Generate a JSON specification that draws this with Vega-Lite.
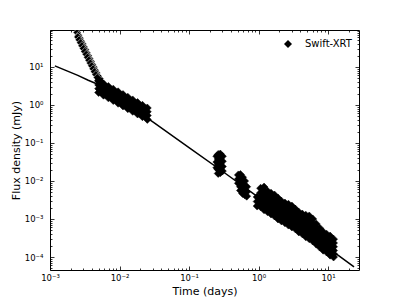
{
"$schema": "https://vega.github.io/schema/vega-lite/v6.json",
"width": 309, "height": 240,
"autosize": {"type": "none"},
"padding": {"left": 50, "top": 30, "right": 40, "bottom": 31},
"background": "white",
"config": {"font": "DejaVu Sans", "view": {"stroke": "black", "strokeWidth": 1}},
"datasets": {
"model": [
{"t":0.001175,"f":10.7},{"t":0.001585,"f":8.51},{"t":0.002512,"f":6.03},{"t":0.003548,"f":4.47},{"t":0.005248,"f":3.31},{"t":0.01,"f":1.45},{"t":0.03162,"f":0.339},{"t":0.1,"f":0.0759},{"t":0.3162,"f":0.0170},{"t":1,"f":0.00372},{"t":3.162,"f":0.000794},{"t":10,"f":0.000174},{"t":23.66,"f":0.000055}
],
"xrt": [
{"t":0.002455,"f":80.9},{"t":0.00257,"f":67.9},{"t":0.002692,"f":57.0},{"t":0.002818,"f":47.8},{"t":0.002951,"f":40.1},{"t":0.00309,"f":33.7},{"t":0.003236,"f":28.2},{"t":0.003388,"f":23.7},{"t":0.003548,"f":19.9},{"t":0.003715,"f":16.7},{"t":0.00389,"f":14.0},{"t":0.004074,"f":11.7},{"t":0.004266,"f":9.86},{"t":0.004467,"f":8.26},{"t":0.004677,"f":6.93},{"t":0.004898,"f":5.82},{"t":0.005129,"f":4.89},{"t":0.00537,"f":4.10},
{"t":0.002512,"f":61.7},{"t":0.00263,"f":51.8},{"t":0.002754,"f":43.5},{"t":0.002884,"f":36.4},{"t":0.00302,"f":30.5},{"t":0.003162,"f":25.6},{"t":0.003311,"f":21.5},{"t":0.003467,"f":18.1},{"t":0.003631,"f":15.1},{"t":0.003802,"f":12.7},{"t":0.003981,"f":10.7},{"t":0.004169,"f":8.95},{"t":0.004365,"f":7.52},{"t":0.004571,"f":6.30},{"t":0.004786,"f":5.28},{"t":0.005012,"f":4.44},{"t":0.005248,"f":3.72},{"t":0.005495,"f":3.13},
{"t":0.005012,"f":4.26},{"t":0.005012,"f":3.38},{"t":0.005012,"f":2.69},{"t":0.005012,"f":2.13},
{"t":0.005433,"f":3.50},{"t":0.005433,"f":2.78},{"t":0.005433,"f":2.21},
{"t":0.005888,"f":3.61},{"t":0.005888,"f":2.87},{"t":0.005888,"f":2.28},{"t":0.005888,"f":1.81},
{"t":0.006383,"f":2.97},{"t":0.006383,"f":2.36},{"t":0.006383,"f":1.87},
{"t":0.006918,"f":3.07},{"t":0.006918,"f":2.44},{"t":0.006918,"f":1.94},{"t":0.006918,"f":1.54},
{"t":0.007499,"f":2.52},{"t":0.007499,"f":2.00},{"t":0.007499,"f":1.59},
{"t":0.008128,"f":2.61},{"t":0.008128,"f":2.07},{"t":0.008128,"f":1.65},{"t":0.008128,"f":1.31},
{"t":0.00881,"f":2.14},{"t":0.00881,"f":1.70},{"t":0.00881,"f":1.35},
{"t":0.00955,"f":2.22},{"t":0.00955,"f":1.76},{"t":0.00955,"f":1.40},{"t":0.00955,"f":1.11},
{"t":0.01035,"f":1.82},{"t":0.01035,"f":1.45},{"t":0.01035,"f":1.15},
{"t":0.01122,"f":1.88},{"t":0.01122,"f":1.50},{"t":0.01122,"f":1.19},{"t":0.01122,"f":0.944},
{"t":0.01216,"f":1.55},{"t":0.01216,"f":1.23},{"t":0.01216,"f":0.977},
{"t":0.01318,"f":1.60},{"t":0.01318,"f":1.27},{"t":0.01318,"f":1.01},{"t":0.01318,"f":0.802},
{"t":0.01429,"f":1.32},{"t":0.01429,"f":1.04},{"t":0.01429,"f":0.830},
{"t":0.01549,"f":1.36},{"t":0.01549,"f":1.08},{"t":0.01549,"f":0.857},{"t":0.01549,"f":0.681},
{"t":0.01679,"f":1.12},{"t":0.01679,"f":0.887},{"t":0.01679,"f":0.705},
{"t":0.0182,"f":1.16},{"t":0.0182,"f":0.918},{"t":0.0182,"f":0.729},{"t":0.0182,"f":0.579},
{"t":0.01972,"f":0.948},{"t":0.01972,"f":0.753},{"t":0.01972,"f":0.598},
{"t":0.02138,"f":0.982},{"t":0.02138,"f":0.780},{"t":0.02138,"f":0.619},{"t":0.02138,"f":0.492},
{"t":0.02317,"f":0.805},{"t":0.02317,"f":0.640},{"t":0.02317,"f":0.508},
{"t":0.02512,"f":0.834},{"t":0.02512,"f":0.662},{"t":0.02512,"f":0.526},{"t":0.02512,"f":0.418},
{"t":0.2512,"f":0.0447},{"t":0.2512,"f":0.0316},{"t":0.2512,"f":0.0224},
{"t":0.263,"f":0.0501},{"t":0.263,"f":0.0380},{"t":0.263,"f":0.0275},{"t":0.263,"f":0.0200},{"t":0.263,"f":0.0158},
{"t":0.2818,"f":0.0513},{"t":0.2818,"f":0.0398},{"t":0.2818,"f":0.0295},{"t":0.2818,"f":0.0219},{"t":0.2818,"f":0.0166},
{"t":0.302,"f":0.0447},{"t":0.302,"f":0.0331},{"t":0.302,"f":0.0240},{"t":0.302,"f":0.0182},
{"t":0.5129,"f":0.01445},{"t":0.5129,"f":0.01122},{"t":0.5129,"f":0.00871},
{"t":0.5495,"f":0.01479},{"t":0.5495,"f":0.01175},{"t":0.5495,"f":0.00912},{"t":0.5495,"f":0.00708},{"t":0.5495,"f":0.00562},
{"t":0.5888,"f":0.01259},{"t":0.5888,"f":0.00977},{"t":0.5888,"f":0.00759},{"t":0.5888,"f":0.00589},{"t":0.5888,"f":0.00468},
{"t":0.631,"f":0.0100},{"t":0.631,"f":0.00759},{"t":0.631,"f":0.00575},{"t":0.631,"f":0.00437},
{"t":0.6761,"f":0.00708},{"t":0.6761,"f":0.00525},{"t":0.6761,"f":0.00398},
{"t":0.955,"f":0.0038},{"t":0.955,"f":0.00288},{"t":0.955,"f":0.00219},
{"t":1.072,"f":0.00646},{"t":1.072,"f":0.0049},{"t":1.072,"f":0.00372},{"t":1.072,"f":0.00282},{"t":1.072,"f":0.00209},
{"t":1.202,"f":0.00692},{"t":1.202,"f":0.00525},{"t":1.202,"f":0.00398},{"t":1.202,"f":0.00302},{"t":1.202,"f":0.00229},{"t":1.202,"f":0.00174},
{"t":1.349,"f":0.00537},{"t":1.349,"f":0.00417},{"t":1.349,"f":0.00324},{"t":1.349,"f":0.00251},{"t":1.349,"f":0.00195},{"t":1.349,"f":0.00155},
{"t":1.514,"f":0.00479},{"t":1.514,"f":0.00372},{"t":1.514,"f":0.00288},{"t":1.514,"f":0.00224},{"t":1.514,"f":0.00174},{"t":1.514,"f":0.00135},
{"t":1.698,"f":0.00427},{"t":1.698,"f":0.00331},{"t":1.698,"f":0.00257},{"t":1.698,"f":0.002},{"t":1.698,"f":0.00155},{"t":1.698,"f":0.0012},
{"t":1.905,"f":0.00355},{"t":1.905,"f":0.00275},{"t":1.905,"f":0.00214},{"t":1.905,"f":0.00166},{"t":1.905,"f":0.00129},{"t":1.905,"f":0.001},
{"t":2.138,"f":0.00295},{"t":2.138,"f":0.00229},{"t":2.138,"f":0.00178},{"t":2.138,"f":0.00138},{"t":2.138,"f":0.0011},{"t":2.138,"f":0.000891},
{"t":2.399,"f":0.00263},{"t":2.399,"f":0.00204},{"t":2.399,"f":0.00158},{"t":2.399,"f":0.00123},{"t":2.399,"f":0.000977},{"t":2.399,"f":0.000794},
{"t":2.692,"f":0.00245},{"t":2.692,"f":0.00191},{"t":2.692,"f":0.00148},{"t":2.692,"f":0.00115},{"t":2.692,"f":0.000891},{"t":2.692,"f":0.000692},
{"t":3.02,"f":0.00219},{"t":3.02,"f":0.0017},{"t":3.02,"f":0.00132},{"t":3.02,"f":0.00102},{"t":3.02,"f":0.000794},{"t":3.02,"f":0.000617},
{"t":3.388,"f":0.00182},{"t":3.388,"f":0.00141},{"t":3.388,"f":0.0011},{"t":3.388,"f":0.000851},{"t":3.388,"f":0.000676},{"t":3.388,"f":0.00055},
{"t":3.802,"f":0.00151},{"t":3.802,"f":0.00117},{"t":3.802,"f":0.000912},{"t":3.802,"f":0.000724},{"t":3.802,"f":0.000575},{"t":3.802,"f":0.000457},
{"t":4.266,"f":0.00135},{"t":4.266,"f":0.00105},{"t":4.266,"f":0.000813},{"t":4.266,"f":0.000646},{"t":4.266,"f":0.000513},{"t":4.266,"f":0.000407},
{"t":4.786,"f":0.00126},{"t":4.786,"f":0.000977},{"t":4.786,"f":0.000759},{"t":4.786,"f":0.000589},{"t":4.786,"f":0.000447},{"t":4.786,"f":0.000339},
{"t":5.37,"f":0.0012},{"t":5.37,"f":0.000912},{"t":5.37,"f":0.000692},{"t":5.37,"f":0.000525},{"t":5.37,"f":0.000398},{"t":5.37,"f":0.000302},
{"t":6.026,"f":0.001},{"t":6.026,"f":0.000759},{"t":6.026,"f":0.000575},{"t":6.026,"f":0.000447},{"t":6.026,"f":0.000347},{"t":6.026,"f":0.000263},
{"t":6.761,"f":0.000741},{"t":6.761,"f":0.000575},{"t":6.761,"f":0.000447},{"t":6.761,"f":0.000347},{"t":6.761,"f":0.000275},{"t":6.761,"f":0.000219},
{"t":7.586,"f":0.000575},{"t":7.586,"f":0.000457},{"t":7.586,"f":0.000363},{"t":7.586,"f":0.000288},{"t":7.586,"f":0.000229},{"t":7.586,"f":0.000182},
{"t":8.511,"f":0.000457},{"t":8.511,"f":0.000363},{"t":8.511,"f":0.000288},{"t":8.511,"f":0.000229},{"t":8.511,"f":0.000186},{"t":8.511,"f":0.000151},
{"t":9.55,"f":0.000398},{"t":9.55,"f":0.000316},{"t":9.55,"f":0.000251},{"t":9.55,"f":0.0002},{"t":9.55,"f":0.000162},{"t":9.55,"f":0.000135},
{"t":10.72,"f":0.000355},{"t":10.72,"f":0.000282},{"t":10.72,"f":0.000224},{"t":10.72,"f":0.000178},{"t":10.72,"f":0.000141},{"t":10.72,"f":0.000112},
{"t":12.02,"f":0.000295},{"t":12.02,"f":0.000234},{"t":12.02,"f":0.000186},{"t":12.02,"f":0.000148},{"t":12.02,"f":0.00012},{"t":12.02,"f":0.0001}
]
},
"layer": [
{
"data": {"name": "model"},
"mark": {"type": "line", "color": "black", "strokeWidth": 1.5, "clip": true},
"encoding": {
"x": {"field": "t", "type": "quantitative",
"scale": {"type": "log", "domain": [0.001, 27.9], "nice": false},
"axis": {"orient": "bottom", "title": "Time (days)", "domain": false, "grid": false,
"values": [0.001,0.002,0.003,0.004,0.005,0.006,0.007,0.008,0.009,0.01,0.02,0.03,0.04,0.05,0.06,0.07,0.08,0.09,0.1,0.2,0.3,0.4,0.5,0.6,0.7,0.8,0.9,1,2,3,4,5,6,7,8,9,10,20],
"tickColor": "black", "tickWidth": 0.8,
"tickSize": {"condition": {"test": "abs(log(datum.value)/LN10 - round(log(datum.value)/LN10)) < 0.001", "value": -4}, "value": -2},
"labelExpr": "abs(log(datum.value)/LN10 - round(log(datum.value)/LN10)) < 0.001 ? '10' + replace(replace(replace(replace(replace(replace('' + round(log(datum.value)/LN10), '-', '⁻'), '0', '⁰'), '1', '¹'), '2', '²'), '3', '³'), '4', '⁴') : ''",
"labelOverlap": false, "labelFlush": false, "labelBound": false,
"labelFontSize": 8.5, "labelColor": "black", "labelPadding": 7,
"titleFontSize": 11, "titleFontWeight": "normal", "titleColor": "black", "titlePadding": 2}},
"y": {"field": "f", "type": "quantitative",
"scale": {"type": "log", "domain": [0.0000455, 94], "nice": false},
"axis": {"orient": "left", "title": "Flux density (mJy)", "domain": false, "grid": false,
"values": [0.00005,0.00006,0.00007,0.00008,0.00009,0.0001,0.0002,0.0003,0.0004,0.0005,0.0006,0.0007,0.0008,0.0009,0.001,0.002,0.003,0.004,0.005,0.006,0.007,0.008,0.009,0.01,0.02,0.03,0.04,0.05,0.06,0.07,0.08,0.09,0.1,0.2,0.3,0.4,0.5,0.6,0.7,0.8,0.9,1,2,3,4,5,6,7,8,9,10,20,30,40,50,60,70,80,90],
"tickColor": "black", "tickWidth": 0.8,
"tickSize": {"condition": {"test": "abs(log(datum.value)/LN10 - round(log(datum.value)/LN10)) < 0.001", "value": -4}, "value": -2},
"labelExpr": "abs(log(datum.value)/LN10 - round(log(datum.value)/LN10)) < 0.001 ? '10' + replace(replace(replace(replace(replace(replace('' + round(log(datum.value)/LN10), '-', '⁻'), '0', '⁰'), '1', '¹'), '2', '²'), '3', '³'), '4', '⁴') : ''",
"labelOverlap": false, "labelFlush": false, "labelBound": false,
"labelFontSize": 8.5, "labelColor": "black", "labelPadding": 11,
"titleFontSize": 11, "titleFontWeight": "normal", "titleColor": "black",
"titleX": -34, "titleY": 120, "titleBaseline": "middle", "titleAlign": "center", "titleAngle": -90}}
}
},
{
"data": {"name": "xrt"},
"mark": {"type": "point", "shape": "diamond", "filled": true, "size": 64, "opacity": 1, "strokeWidth": 0.5, "clip": true},
"encoding": {
"x": {"field": "t", "type": "quantitative",
"scale": {"type": "log", "domain": [0.001, 27.9], "nice": false},
"axis": {"orient": "top", "title": null, "labels": false, "domain": false, "grid": false,
"values": [0.001,0.002,0.003,0.004,0.005,0.006,0.007,0.008,0.009,0.01,0.02,0.03,0.04,0.05,0.06,0.07,0.08,0.09,0.1,0.2,0.3,0.4,0.5,0.6,0.7,0.8,0.9,1,2,3,4,5,6,7,8,9,10,20],
"tickColor": "black", "tickWidth": 0.8,
"tickSize": {"condition": {"test": "abs(log(datum.value)/LN10 - round(log(datum.value)/LN10)) < 0.001", "value": -4}, "value": -2}}},
"y": {"field": "f", "type": "quantitative",
"scale": {"type": "log", "domain": [0.0000455, 94], "nice": false},
"axis": {"orient": "right", "title": null, "labels": false, "domain": false, "grid": false,
"values": [0.00005,0.00006,0.00007,0.00008,0.00009,0.0001,0.0002,0.0003,0.0004,0.0005,0.0006,0.0007,0.0008,0.0009,0.001,0.002,0.003,0.004,0.005,0.006,0.007,0.008,0.009,0.01,0.02,0.03,0.04,0.05,0.06,0.07,0.08,0.09,0.1,0.2,0.3,0.4,0.5,0.6,0.7,0.8,0.9,1,2,3,4,5,6,7,8,9,10,20,30,40,50,60,70,80,90],
"tickColor": "black", "tickWidth": 0.8,
"tickSize": {"condition": {"test": "abs(log(datum.value)/LN10 - round(log(datum.value)/LN10)) < 0.001", "value": -4}, "value": -2}}},
"stroke": {"condition": {"test": "datum.t < 0.0049", "value": "white"}, "value": "black"},
"color": {"datum": "Swift-XRT", "type": "nominal",
"scale": {"range": ["black"]},
"legend": {"orient": "none", "legendX": 233, "legendY": 9, "title": null, "symbolType": "diamond", "symbolSize": 64, "symbolFillColor": "black", "symbolStrokeColor": "black", "symbolStrokeWidth": 0, "labelFont": "DejaVu Sans", "labelFontSize": 10, "labelColor": "black", "labelOffset": 12, "padding": 0}}
}
}
],
"resolve": {"axis": {"x": "independent", "y": "independent"}}
}
